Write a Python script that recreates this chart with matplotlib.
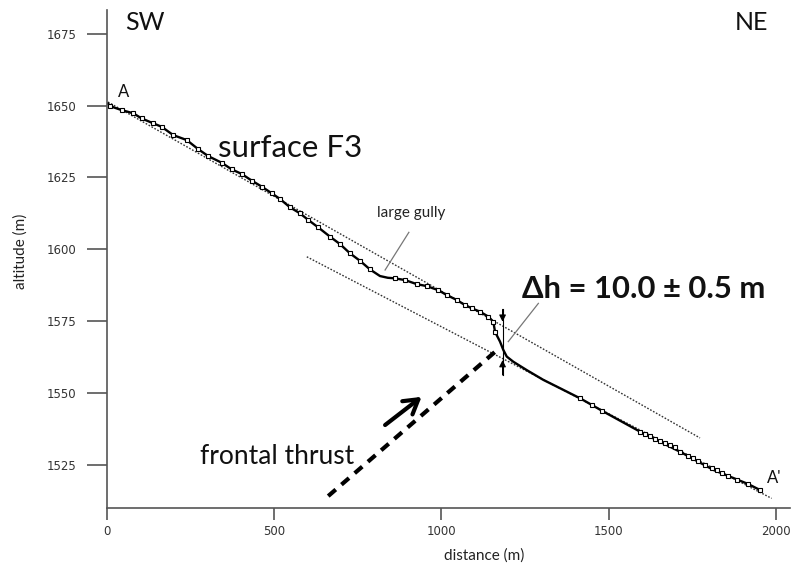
import matplotlib
matplotlib.use('Agg')
import matplotlib.pyplot as plt

# ---------------- data ----------------
profile_x = [4, 9.9, 44.8, 79.5, 104.6, 139.3, 164.4, 199.0, 239.1, 273.8, 303.6,
             343.7, 373.6, 403.5, 433.4, 463.2, 493.1, 517.9, 547.8, 577.7, 602.5,
             632.4, 667.4, 697.3, 727.1, 757.0, 786.9, 816.8, 840.0, 861.6, 891.5,
             926.5, 956.4, 991.0, 1016.1, 1046.0, 1070.8, 1090.9, 1115.7, 1140.5,
             1155.4, 1160.5, 1175.4, 1185.3, 1195.5, 1215.2, 1255.2, 1304.8, 1354.7,
             1414.5, 1449.5, 1479.4, 1593.8, 1713.4, 1812.9, 1916.6, 1952.5]
profile_y = [1650.7, 1649.8, 1648.4, 1647.3, 1645.5, 1643.8, 1642.6, 1639.7, 1638.0,
             1634.8, 1632.4, 1630.1, 1627.8, 1626.2, 1623.9, 1621.8, 1619.5, 1617.5,
             1614.6, 1612.5, 1610.2, 1607.6, 1604.4, 1601.8, 1598.6, 1596.0, 1593.0,
             1590.7, 1590.1, 1589.9, 1589.3, 1587.9, 1587.2, 1585.8, 1584.1, 1582.4,
             1580.6, 1579.5, 1578.3, 1576.6, 1574.8, 1571.3, 1567.9, 1565.0, 1562.7,
             1560.9, 1558.0, 1554.6, 1551.7, 1548.2, 1545.9, 1543.9, 1536.6, 1529.6,
             1523.3, 1518.4, 1516.3]

marker_x = [9.9, 44.8, 79.5, 104.6, 139.3, 164.4, 199.0, 239.1, 273.8, 303.6, 343.7,
            373.6, 403.5, 433.4, 463.2, 493.1, 517.9, 547.8, 577.7, 602.5, 632.4,
            667.4, 697.3, 727.1, 757.0, 786.9, 861.6, 891.5, 926.5, 956.4, 991.0,
            1016.1, 1046.0, 1070.8, 1090.9, 1115.7, 1140.5, 1155.4, 1160.5,
            1414.5, 1449.5, 1479.4, 1593.8, 1608.8, 1623.7, 1638.7, 1653.6, 1668.6,
            1683.5, 1698.5, 1713.4, 1737.3, 1752.3, 1767.2, 1788.1, 1808.1, 1823.1,
            1838.0, 1856.8, 1882.8, 1916.6, 1952.5]
marker_y = [1649.8, 1648.4, 1647.3, 1645.5, 1643.8, 1642.6, 1639.7, 1638.0, 1634.8,
            1632.4, 1630.1, 1627.8, 1626.2, 1623.9, 1621.8, 1619.5, 1617.5, 1614.6,
            1612.5, 1610.2, 1607.6, 1604.4, 1601.8, 1598.6, 1596.0, 1593.0, 1589.9,
            1589.3, 1587.9, 1587.2, 1585.8, 1584.1, 1582.4, 1580.6, 1579.5, 1578.3,
            1576.6, 1574.8, 1571.3,
            1548.2, 1545.9, 1543.9, 1536.6, 1535.8, 1535.0, 1534.2, 1533.4, 1532.6,
            1531.8, 1531.1, 1529.6, 1528.1, 1527.3, 1526.4, 1525.0, 1524.0, 1523.1,
            1522.2, 1521.2, 1519.8, 1518.4, 1516.3]

upper_fit_x = [4, 1773]
upper_fit_y = [1651.2, 1534.4]
lower_fit_x = [598, 1987]
lower_fit_y = [1597.4, 1513.4]

thrust_x = [662, 1166]
thrust_y = [1514.2, 1564.9]
slip_x = [832, 941]
slip_y = [1538.9, 1548.7]

dh_x = 1183
dh_top, dh_tip_top = 1579.1, 1574.8
dh_bot, dh_tip_bot = 1556.3, 1561.5

gully_leader_x = [903, 832]
gully_leader_y = [1605.9, 1592.8]
dh_leader_x = [1290, 1200]
dh_leader_y = [1581.2, 1567.9]

x_ticks = [0, 500, 1000, 1500, 2000]
y_ticks = [1525, 1550, 1575, 1600, 1625, 1650, 1675]

# ---------------- figure ----------------
TXT = ['Lato', 'DejaVu Sans']
plt.rcParams['font.family'] = TXT

fig = plt.figure(figsize=(7.96, 5.63), dpi=100)
ax = fig.add_axes([0.134, 0.0982, 0.8585, 0.884])
ax.set_xlim(0, 2042)
ax.set_ylim(1510.15, 1683.2)

for s in ('top', 'right'):
    ax.spines[s].set_visible(False)
for s in ('left', 'bottom'):
    ax.spines[s].set_color('#555555')
    ax.spines[s].set_linewidth(1.2)

ax.set_xticks(x_ticks)
ax.set_yticks(y_ticks)
ax.tick_params(axis='y', direction='out', length=14.4, width=1.2, pad=7.5,
               colors='#555555', labelcolor='#333333', labelsize=8.5)
ax.tick_params(axis='x', direction='out', length=8.6, width=1.2, pad=3.5,
               colors='#555555', labelcolor='#333333', labelsize=8.5)
for lab in ax.get_xticklabels() + ax.get_yticklabels():
    lab.set_family('DejaVu Sans')

ax.set_ylabel('altitude (m)', fontsize=11, color='#222222')
ax.yaxis.set_label_coords(-0.116, 0.515)
ax.set_xlabel('distance (m)', fontsize=11, color='#222222')
ax.xaxis.set_label_coords(0.552, -0.081)

# fit lines
ax.plot(upper_fit_x, upper_fit_y, ls=(0, (1.2, 1.2)), lw=1.0, color='#333333')
ax.plot(lower_fit_x, lower_fit_y, ls=(0, (1.2, 1.2)), lw=1.0, color='#333333')

# profile
ax.plot(profile_x, profile_y, color='black', lw=1.7, solid_joinstyle='round')
ax.plot(marker_x, marker_y, ls='none', marker='s', ms=3.0, mfc='white',
        mec='black', mew=0.8)

# thrust
ax.plot(thrust_x, thrust_y, color='black', lw=3.0, ls=(0, (2.4, 1.8)),
        dash_capstyle='butt')
ax.annotate('', xy=(slip_x[1], slip_y[1]), xytext=(slip_x[0], slip_y[0]),
            arrowprops=dict(arrowstyle='->,head_length=0.5,head_width=0.3',
                            lw=3.0, color='black', shrinkA=0, shrinkB=0,
                            mutation_scale=20))

# delta h marker
ax.plot([dh_x, dh_x], [dh_top, dh_bot], color='black', lw=0.8)
for a, b in ((dh_top, dh_tip_top), (dh_bot, dh_tip_bot)):
    ax.annotate('', xy=(dh_x, b), xytext=(dh_x, a),
                arrowprops=dict(arrowstyle='-|>,head_length=0.5,head_width=0.25',
                                lw=0.8, color='black', shrinkA=0, shrinkB=0,
                                mutation_scale=8))

# leaders
ax.plot(gully_leader_x, gully_leader_y, color='#777777', lw=0.9)
ax.plot(dh_leader_x, dh_leader_y, color='#777777', lw=0.9)

# texts
ax.text(54.7, 1676.3, 'SW', fontsize=18, va='baseline', ha='left', color='#111111')
ax.text(1878, 1676.3, 'NE', fontsize=18, va='baseline', ha='left', color='#111111')
ax.text(33.8, 1653.0, 'A', fontsize=12, va='baseline', ha='left', color='#111111')
ax.text(1973, 1518.7, "A'", fontsize=12, va='baseline', ha='left', color='#111111')
ax.text(332.6, 1632.1, 'surface F3', fontsize=22.5, va='baseline', ha='left', color='#111111')
ax.text(807, 1611.3, 'large gully', fontsize=11, va='baseline', ha='left', color='#222222')
ax.text(1240.3, 1583.0, 'Δh = 10.0 ± 0.5 m', fontsize=22.3, fontweight='bold',
        va='baseline', ha='left', color='#111111')
ax.text(278.8, 1525.35, 'frontal thrust', fontsize=19, va='baseline', ha='left',
        color='#111111')

fig.savefig('out.png', dpi=100, facecolor='white')
